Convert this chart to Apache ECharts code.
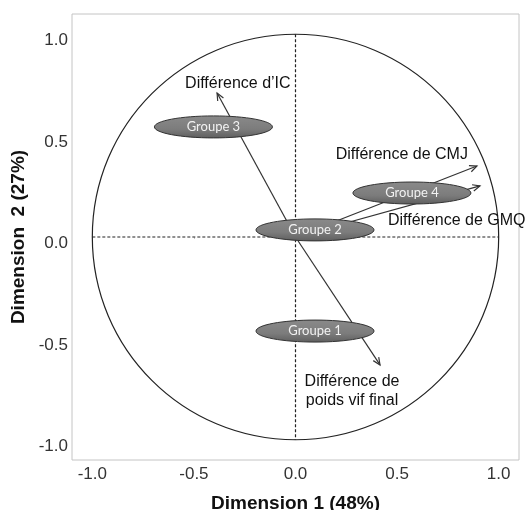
<!DOCTYPE html>
<html>
<head>
<meta charset="utf-8">
<script src="https://cdn.jsdelivr.net/npm/echarts@6/dist/echarts.min.js"></script>
<style>
html,body{margin:0;padding:0;background:#fff;}
#chart{width:527px;height:510px;}
</style>
</head>
<body>
<div id="chart"></div>
<script>
// ---- data ----
const axisTicks = [-1.0, -0.5, 0.0, 0.5, 1.0];
const variableNames = ['Différence d\u2019IC', 'Différence de CMJ', 'Différence de GMQ', 'Différence de\npoids vif final'];
const variableX = [-0.386, 0.893, 0.908, 0.416];
const variableY = [0.710, 0.350, 0.252, -0.631];
const groupNames = ['Groupe 1', 'Groupe 2', 'Groupe 3', 'Groupe 4'];
const groupX = [0.096, 0.096, -0.404, 0.573];
const groupY = [-0.464, 0.035, 0.543, 0.217];
const xTitle = 'Dimension 1 (48%)';
const yTitle = 'Dimension  2 (27%)';

// ---- styles ----
const FONT = '"Liberation Sans", Arial, sans-serif';
const labelStyle = [
  {dx: -32, dy: -9, align: 'left'},
  {dx: -9, dy: -11, align: 'right'},
  {dx: -92, dy: 35, align: 'left'},
  {dx: -28, dy: 26.5, align: 'center'}
];

const chart = echarts.init(document.getElementById('chart'), null, {renderer: 'canvas'});

const arrowData = variableX.map((x, i) => [x, variableY[i], i]);
const groupData = groupX.map((x, i) => [x, groupY[i], i]);

const option = {
  backgroundColor: '#fff',
  animation: false,
  grid: {left: 72, right: 8, top: 14, bottom: 50, show: true, borderColor: '#c4c4c4', borderWidth: 1,
    containLabel: false, outerBoundsMode: 'none'},
  xAxis: {
    type: 'value', min: -1.1, max: 1.1,
    axisLine: {show: false}, splitLine: {show: false},
    axisTick: {show: true, customValues: axisTicks, length: 2, lineStyle: {color: '#c4c4c4'}},
    axisLabel: {customValues: axisTicks, formatter: v => v.toFixed(1), fontSize: 17, color: '#333', fontFamily: FONT, margin: 6},
    name: xTitle, nameLocation: 'middle', nameGap: 34,
    nameTextStyle: {fontSize: 19, fontWeight: 'bold', color: '#111', fontFamily: FONT}
  },
  yAxis: {
    type: 'value', min: -1.1, max: 1.1,
    axisLine: {show: false}, splitLine: {show: false},
    axisTick: {show: true, customValues: axisTicks, length: 2, lineStyle: {color: '#c4c4c4'}},
    axisLabel: {customValues: axisTicks, formatter: v => v.toFixed(1), fontSize: 17, color: '#333', fontFamily: FONT, margin: 4,
      verticalAlign: 'top', lineHeight: 13},
    name: yTitle, nameLocation: 'middle', nameRotate: 90, nameGap: 36,
    nameTextStyle: {fontSize: 19, fontWeight: 'bold', color: '#111', fontFamily: FONT}
  },
  series: [
    {
      type: 'custom', silent: true, z: 1,
      data: [[0, 0]],
      renderItem: function (params, api) {
        const c = api.coord([0, 0]);
        const s = api.size([1, 1]);
        const l = api.coord([-1, 0]), r = api.coord([1, 0]);
        const t = api.coord([0, 1]), b = api.coord([0, -1]);
        return {
          type: 'group',
          children: [
            {type: 'ellipse', shape: {cx: c[0], cy: c[1], rx: s[0], ry: s[1]},
              style: {fill: null, stroke: '#222', lineWidth: 1.2}},
            {type: 'line', shape: {x1: l[0], y1: l[1], x2: r[0], y2: r[1]},
              style: {stroke: '#222', lineWidth: 1.2, lineDash: [3, 2]}},
            {type: 'line', shape: {x1: t[0], y1: t[1], x2: b[0], y2: b[1]},
              style: {stroke: '#222', lineWidth: 1.2, lineDash: [3, 2]}}
          ]
        };
      }
    },
    {
      type: 'custom', silent: true, z: 2,
      data: arrowData,
      renderItem: function (params, api) {
        const o = api.coord([0, 0]);
        const p = api.coord([api.value(0), api.value(1)]);
        const i = api.value(2);
        const ang = Math.atan2(p[1] - o[1], p[0] - o[0]);
        const hl = 8, ha = 0.42;
        const h1 = [p[0] - hl * Math.cos(ang - ha), p[1] - hl * Math.sin(ang - ha)];
        const h2 = [p[0] - hl * Math.cos(ang + ha), p[1] - hl * Math.sin(ang + ha)];
        const ls = labelStyle[i];
        return {
          type: 'group',
          children: [
            {type: 'line', shape: {x1: o[0], y1: o[1], x2: p[0], y2: p[1]},
              style: {stroke: '#333', lineWidth: 1.2}},
            {type: 'polyline', shape: {points: [h1, p, h2]},
              style: {stroke: '#333', lineWidth: 1.2, fill: null}},
            {type: 'text', x: p[0] + ls.dx, y: p[1] + ls.dy,
              style: {text: variableNames[i], fontSize: 16, fontFamily: FONT, fill: '#111',
                align: ls.align, verticalAlign: 'middle', lineHeight: 19}}
          ]
        };
      }
    },
    {
      type: 'custom', silent: true, z: 3,
      data: groupData,
      renderItem: function (params, api) {
        const p = api.coord([api.value(0), api.value(1)]);
        const i = api.value(2);
        return {
          type: 'group',
          children: [
            {type: 'ellipse', shape: {cx: p[0], cy: p[1], rx: 59, ry: 11},
              style: {
                fill: new echarts.graphic.LinearGradient(0, 0, 0, 1, [
                  {offset: 0, color: '#8a8a8a'}, {offset: 0.6, color: '#7c7c7c'}, {offset: 1, color: '#5e5e5e'}
                ]),
                stroke: '#333', lineWidth: 1}},
            {type: 'text', x: p[0], y: p[1],
              style: {text: groupNames[i], fontSize: 13, fontFamily: 'Lato, "Open Sans", sans-serif',
                fill: '#f2f2f2', align: 'center', verticalAlign: 'middle'}}
          ]
        };
      }
    }
  ]
};
chart.setOption(option);
</script>
</body>
</html>
